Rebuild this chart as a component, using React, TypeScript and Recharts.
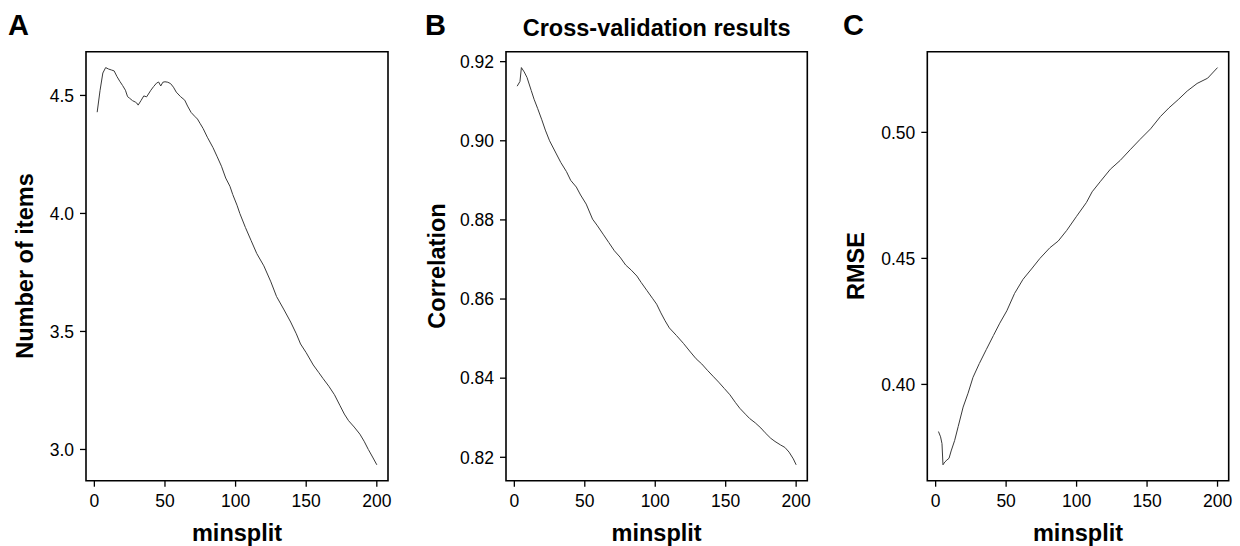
import React from "react";
import { LineChart, Line, XAxis, YAxis, ReferenceArea } from "recharts";

// ---- Data ----
const xTicks = [0, 50, 100, 150, 200];

const itemsX = [2, 4, 6, 8, 10, 12, 14, 16, 18, 20, 22, 23.5, 25, 27, 29, 30, 31, 33, 35, 37, 40, 42, 44, 45.5, 47, 48.5, 50, 52, 54, 56, 58, 61, 64, 66, 68.5, 71, 73, 75, 77, 80, 84, 87, 90, 93, 96, 98, 101, 103, 107, 111, 115, 120, 125, 129, 134, 139, 143, 146, 150, 155, 159, 162, 166, 170, 174, 177, 180, 184, 188, 191, 194, 197, 200];
const itemsY = [4.429, 4.52, 4.595, 4.618, 4.612, 4.608, 4.604, 4.58, 4.56, 4.542, 4.522, 4.495, 4.488, 4.478, 4.472, 4.468, 4.459, 4.478, 4.498, 4.494, 4.522, 4.538, 4.552, 4.557, 4.54, 4.556, 4.558, 4.556, 4.55, 4.535, 4.514, 4.495, 4.48, 4.455, 4.428, 4.412, 4.4, 4.38, 4.36, 4.323, 4.279, 4.24, 4.2, 4.15, 4.115, 4.08, 4.035, 4.0, 3.94, 3.885, 3.83, 3.778, 3.71, 3.648, 3.595, 3.54, 3.49, 3.447, 3.41, 3.358, 3.325, 3.3, 3.268, 3.232, 3.185, 3.15, 3.122, 3.095, 3.065, 3.035, 3.0, 2.968, 2.935];
const itemsTicks = [3.0, 3.5, 4.0, 4.5];

const corrX = [2, 4, 5, 7, 9, 12, 14, 16.5, 19.5, 22, 25, 29.5, 33, 37, 40, 44, 47, 51, 55.5, 59, 63, 67, 71, 75, 79, 83, 87, 90, 94, 98, 101, 104, 107, 110, 115, 120, 125, 129, 133, 137, 141, 145, 149, 153, 157, 160, 164, 167, 171, 175, 178, 182, 185, 189, 192, 195, 198, 200];
const corrY = [0.9138, 0.915, 0.9185, 0.9174, 0.916, 0.9127, 0.9105, 0.9082, 0.9053, 0.9027, 0.9, 0.8969, 0.8945, 0.8922, 0.89, 0.8883, 0.8863, 0.884, 0.8802, 0.8785, 0.8764, 0.8743, 0.8722, 0.8706, 0.8686, 0.8673, 0.8658, 0.8642, 0.8622, 0.8602, 0.8587, 0.8565, 0.8545, 0.8527, 0.8508, 0.8488, 0.8466, 0.8449, 0.8436, 0.842, 0.8405, 0.839, 0.8374, 0.8358, 0.8338, 0.8324, 0.8309, 0.8298, 0.8287, 0.8274, 0.8262, 0.8248, 0.824, 0.8231, 0.8225, 0.8213, 0.8196, 0.8181];
const corrTicks = [0.82, 0.84, 0.86, 0.88, 0.9, 0.92];

const rmseX = [2, 3.5, 4.5, 5.2, 6.5, 8, 9.5, 11, 13.5, 16, 19.5, 23, 26.5, 31, 36, 41, 45.5, 50.5, 56, 62, 68, 74, 81, 87, 93, 100, 107, 111, 117, 124, 131, 138, 145, 152.5, 159.5, 165.5, 172.5, 178.5, 185.5, 193, 200];
const rmseY = [0.3813, 0.3792, 0.3765, 0.3681, 0.3692, 0.37, 0.3707, 0.3736, 0.3778, 0.3833, 0.391, 0.3965, 0.4028, 0.4083, 0.4139, 0.4194, 0.4243, 0.4292, 0.4361, 0.4417, 0.4458, 0.45, 0.4542, 0.4569, 0.4611, 0.4667, 0.4722, 0.4764, 0.4806, 0.4854, 0.4889, 0.4931, 0.4972, 0.5014, 0.5063, 0.5097, 0.5132, 0.5164, 0.5194, 0.5215, 0.5257];
const rmseTicks = [0.4, 0.45, 0.5];

const panelLetters = ["A", "B", "C"];
const yTitles = ["Number of items", "Correlation", "RMSE"];
const xTitle = "minsplit";
const mainTitle = "Cross-validation results";

// ---- helpers ----
const FONT = "Liberation Sans, Arial, sans-serif";
const pad = (arr: number[]): [number, number] => {
  const lo = Math.min(...arr);
  const hi = Math.max(...arr);
  const r = hi - lo;
  return [lo - 0.04 * r, hi + 0.04 * r];
};
const toRows = (xs: number[], ys: number[]) => xs.map((x, i) => ({ x, y: ys[i] }));

type PanelProps = {
  left: number;
  width: number;
  mLeft: number;
  mRight: number;
  xs: number[];
  ys: number[];
  yTicks: number[];
  digits: number;
};

const TOP = 51.7;
const BOTTOM = 546 - 480.7;
const YW = 60;
const XH = 40;
const TICK_FS = 17.5;

function Panel({ left, width, mLeft, mRight, xs, ys, yTicks, digits }: PanelProps) {
  const data = toRows(xs, ys);
  const xd = pad(xs);
  const yd = pad(ys);
  return (
    <div style={{ position: "absolute", left, top: 0 }}>
      <LineChart
        width={width}
        height={546}
        data={data}
        margin={{ top: TOP, right: mRight, bottom: BOTTOM - XH, left: mLeft }}
      >
        <XAxis
          dataKey="x"
          type="number"
          domain={xd}
          ticks={xTicks}
          interval={0}
          height={XH}
          axisLine={false}
          tickLine={{ stroke: "#000", strokeWidth: 1.3 }}
          tickSize={6}
          tickMargin={8}
          tick={{ fill: "#000", fontSize: TICK_FS, fontFamily: FONT }}
        />
        <YAxis
          type="number"
          dataKey="y"
          domain={yd}
          ticks={yTicks}
          interval={0}
          width={YW}
          axisLine={false}
          tickLine={{ stroke: "#000", strokeWidth: 1.3 }}
          tickSize={6}
          tickMargin={6}
          tickFormatter={(v: number) => v.toFixed(digits)}
          tick={{ fill: "#000", fontSize: TICK_FS, fontFamily: FONT }}
        />
        <ReferenceArea
          x1={xd[0]}
          x2={xd[1]}
          y1={yd[0]}
          y2={yd[1]}
          stroke="#000"
          strokeWidth={1.6}
          fill="none"
          fillOpacity={0}
          ifOverflow="visible"
        />
        <Line
          type="linear"
          dataKey="y"
          stroke="#3a3a3a"
          strokeWidth={1}
          dot={false}
          activeDot={false}
          isAnimationActive={false}
        />
      </LineChart>
    </div>
  );
}

export default function App() {
  const letterX = [8, 425, 843];
  const boxCenters = [237, 656.6, 1078];
  const yTitleX = [33, 445, 864];
  const midY = 266;
  return (
    <div
      style={{
        position: "absolute",
        left: 0,
        top: 0,
        width: 1240,
        height: 546,
        background: "#fff",
        overflow: "hidden",
      }}
    >
      <Panel left={0} width={413} mLeft={86 - YW} mRight={25} xs={itemsX} ys={itemsY} yTicks={itemsTicks} digits={1} />
      <Panel left={413} width={413} mLeft={93 - YW} mRight={18.7} xs={corrX} ys={corrY} yTicks={corrTicks} digits={2} />
      <Panel left={826} width={414} mLeft={101.3 - YW} mRight={11.3} xs={rmseX} ys={rmseY} yTicks={rmseTicks} digits={2} />
      <svg
        width={1240}
        height={546}
        style={{ position: "absolute", left: 0, top: 0, pointerEvents: "none" }}
        fontFamily={FONT}
      >
        {panelLetters.map((l, i) => (
          <text key={l} x={letterX[i]} y={35} fontSize={29} fontWeight="bold" fill="#000">
            {l}
          </text>
        ))}
        <text x={656.6} y={36} fontSize={23.5} fontWeight="bold" textAnchor="middle" fill="#000">
          {mainTitle}
        </text>
        {boxCenters.map((cx, i) => (
          <text key={"xt" + i} x={cx} y={541} fontSize={23.5} fontWeight="bold" textAnchor="middle" fill="#000">
            {xTitle}
          </text>
        ))}
        {yTitles.map((t, i) => (
          <text
            key={t}
            x={0}
            y={0}
            transform={`translate(${yTitleX[i]},${midY}) rotate(-90)`}
            fontSize={23.5}
            fontWeight="bold"
            textAnchor="middle"
            fill="#000"
          >
            {t}
          </text>
        ))}
      </svg>
    </div>
  );
}
